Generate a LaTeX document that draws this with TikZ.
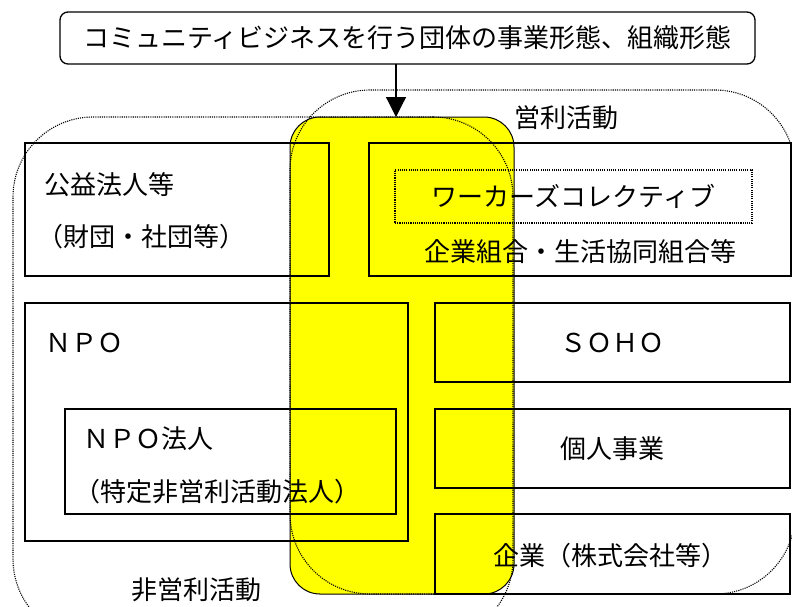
\documentclass[tikz,border=0pt]{standalone}
\usepackage{fontspec}
\newfontfamily\jp{Noto Sans CJK JP}
\usetikzlibrary{arrows.meta}
\definecolor{hiyellow}{RGB}{255,255,0}
\begin{document}
\begin{tikzpicture}[x=1pt,y=-1pt,
  every node/.style={font=\jp\fontsize{26}{30}\selectfont, inner sep=0pt, outer sep=0pt},
  titlebox/.style={draw, line width=1.3pt, rounded corners=8pt, minimum width=695pt, minimum height=52pt},
  corebox/.style={draw, line width=1pt, fill=hiyellow, rounded corners=30pt, anchor=north west},
  region/.style={draw, line width=1.1pt, dash pattern=on 1.1pt off 1.1pt, rounded corners=80pt, anchor=north west},
  solidbox/.style={draw, line width=1.2pt, anchor=north west},
  dotbox/.style={draw, line width=1.1pt, dash pattern=on 1.1pt off 1.1pt, anchor=north west},
  lefttext/.style={anchor=west},
  arrowline/.style={line width=1.2pt, -{Triangle[length=20pt,width=20pt]}}
]
\useasboundingbox (0,0) rectangle (792,606);
\clip (0,0) rectangle (792,606);

% yellow core
\node[corebox, minimum width=224pt, minimum height=477pt] (core) at (290,117) {};

% dotted activity regions
\node[region, minimum width=500pt, minimum height=522pt] (nonprofit) at (13,117) {};
\node[region, minimum width=505pt, minimum height=504pt] (profit) at (290,90) {};

% title and arrow
\node[titlebox] (title) at (407.5,38) {コミュニティビジネスを行う団体の事業形態、組織形態};
\coordinate (arrowend) at (396,117);
\draw[arrowline] (title.south -| arrowend) -- (arrowend);

% boxes
\node[solidbox, minimum width=304pt, minimum height=133pt] (koueki) at (25,143) {};
\node[solidbox, minimum width=422pt, minimum height=133pt] (kumiai) at (369,143) {};
\node[dotbox, minimum width=357pt, minimum height=53pt] (workers) at (395,170) {};
\node[solidbox, minimum width=383pt, minimum height=238pt] (npo) at (25,303) {};
\node[solidbox, minimum width=331pt, minimum height=105pt] (npohojin) at (65,409) {};
\node[solidbox, minimum width=355pt, minimum height=79pt] (soho) at (435,303) {};
\node[solidbox, minimum width=355pt, minimum height=79pt] (kojin) at (435,409) {};
\node[solidbox, minimum width=355pt, minimum height=80pt] (kigyo) at (435,514) {};

% texts
\node[lefttext] (tkoueki) at (44,185) {公益法人等};
\node[lefttext] (tzaidan) at (37,237) {（財団・社団等）};
\node (tworkers) at (workers.center) {ワーカーズコレクティブ};
\node (tkumiai) at (580,252) {企業組合・生活協同組合等};
\node[lefttext] (tnpo) at (45,343) {ＮＰＯ};
\node (tsoho) at (soho.center) {ＳＯＨＯ};
\node[lefttext] (tnpohojin) at (83,439) {ＮＰＯ法人};
\node[lefttext] (ttokutei) at (74,492) {（特定非営利活動法人）};
\node (tkojin) at (kojin.center) {個人事業};
\node (tkigyo) at (610,556) {企業（株式会社等）};
\node[lefttext] (thieiri) at (131,590) {非営利活動};
\node[lefttext] (teiri) at (514,118) {営利活動};
\end{tikzpicture}
\end{document}
